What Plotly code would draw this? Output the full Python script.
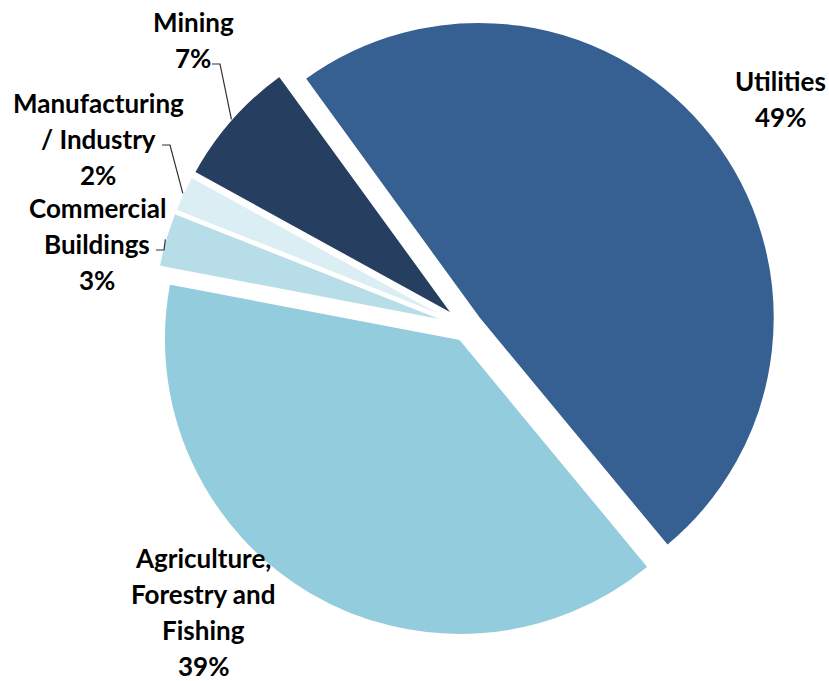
import math
import plotly.graph_objects as go

# Share of total by sector (percent)
sectors = [
    "Utilities",
    "Agriculture, Forestry and Fishing",
    "Commercial Buildings",
    "Manufacturing / Industry",
    "Mining",
]
shares = [49, 39, 3, 2, 7]

# Label text, one entry per line, followed by the percentage line
label_lines = [
    ["Utilities"],
    ["Agriculture,", "Forestry and", "Fishing"],
    ["Commercial", "Buildings"],
    ["Manufacturing", "/ Industry"],
    ["Mining"],
]

colors = ["#366092", "#93CDDD", "#B7DEE8", "#DBEEF4", "#263F60"]
pulls = [0.05, 0.047, 0.061, 0.061, 0.061]

# Page / pie geometry (pixels)
W, H = 829, 681
CX, CY, R = 467, 327, 296
START_ANGLE = -36

# Label placement: centre x and baseline of the first line (pixels)
label_pos = [
    (780, 90),
    (203, 567),
    (97, 217),
    (98, 112),
    (193, 31),
]
LINE_GAP = 36
FONT_SIZE = 26
# Leader lines start at the right of this label line: (line index, start x)
leaders = {2: (1, 156), 3: (1, 162), 4: (1, 212)}

half = R * (1 + max(pulls))
dom_x = [(CX - half) / W, (CX + half) / W]
dom_y = [1 - (CY + half) / H, 1 - (CY - half) / H]

fig = go.Figure(
    go.Pie(
        labels=sectors,
        values=shares,
        sort=False,
        direction="clockwise",
        rotation=START_ANGLE,
        pull=pulls,
        marker=dict(colors=colors, line=dict(color="white", width=2)),
        textinfo="none",
        hoverinfo="label+percent",
        showlegend=False,
        domain=dict(x=dom_x, y=dom_y),
    )
)


def px(x):
    return x / W


def py(y):
    return 1 - y / H


annotations = []
shapes = []
total = sum(shares)
cum = 0
for i, (name, val) in enumerate(zip(sectors, shares)):
    lines = label_lines[i] + [f"{round(100 * val / total)}%"]
    lx, base = label_pos[i]
    for k, txt in enumerate(lines):
        b = base + k * LINE_GAP
        annotations.append(
            dict(
                text=txt,
                x=px(lx),
                y=py(b - 0.36 * FONT_SIZE),
                xref="paper",
                yref="paper",
                xanchor="center",
                yanchor="middle",
                borderpad=0,
                showarrow=False,
                font=dict(family="Lato", size=FONT_SIZE, color="black", weight="bold"),
            )
        )
    mid = math.radians(START_ANGLE + 360 * (cum + val / 2) / total)
    cum += val
    if i in leaders:
        line_idx, sx = leaders[i]
        sy = base + line_idx * LINE_GAP - 3
        dist = R * (1 + pulls[i])
        ex = CX + dist * math.sin(mid)
        ey = CY - dist * math.cos(mid)
        path = f"M {px(sx)} {py(sy)} L {px(sx + 8)} {py(sy)} L {px(ex)} {py(ey)}"
        shapes.append(
            dict(type="path", path=path, xref="paper", yref="paper",
                 line=dict(color="#303030", width=1.2))
        )

fig.update_layout(
    width=W,
    height=H,
    margin=dict(l=0, r=0, t=0, b=0),
    paper_bgcolor="white",
    plot_bgcolor="white",
    annotations=annotations,
    shapes=shapes,
)

fig.write_html("out.html")
